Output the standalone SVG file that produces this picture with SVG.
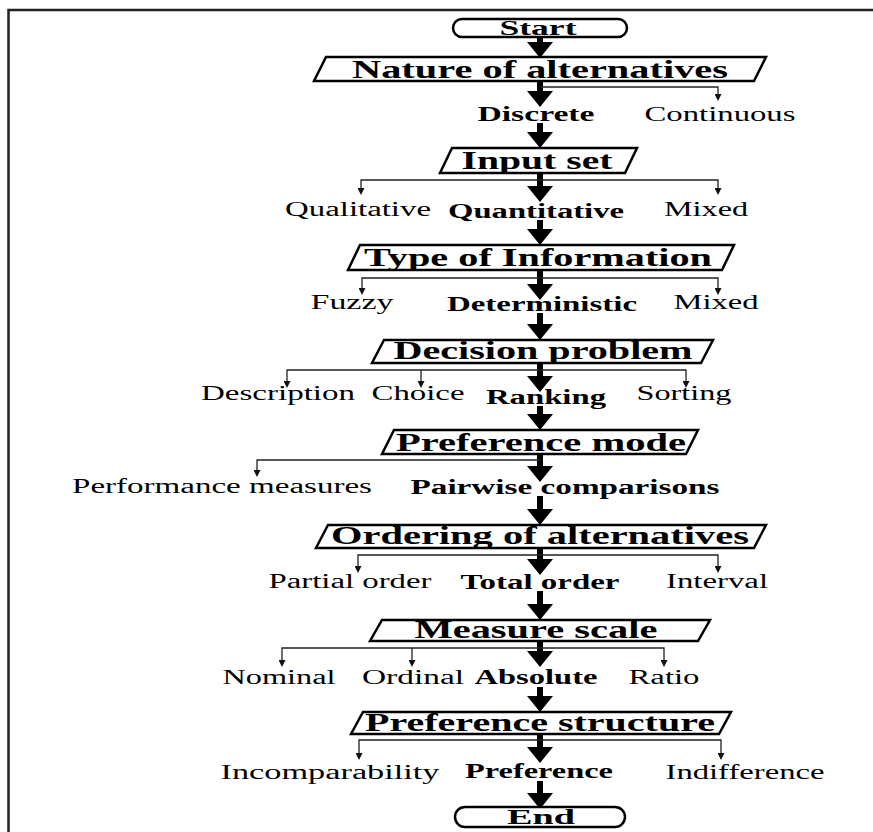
<svg xmlns="http://www.w3.org/2000/svg" width="873" height="832" viewBox="0 0 873 832">
<defs>
<marker id="bigHead" viewBox="0 0 16 26" markerWidth="16" markerHeight="26" refX="0" refY="13" orient="auto" markerUnits="userSpaceOnUse"><path d="M0,0 L16,13 L0,26 Z" fill="#000"/></marker>
<marker id="smallHead" viewBox="0 0 7 7" markerWidth="7" markerHeight="7" refX="0" refY="3.5" orient="auto-start-reverse" markerUnits="userSpaceOnUse"><path d="M0,0 L7,3.5 L0,7 Z" fill="#111"/></marker>
</defs>
<style>
.frame{fill:none;stroke:#222;stroke-width:2.5}
.box{fill:#fff;stroke:#000;stroke-width:2.5;stroke-linejoin:miter}
.term{fill:#fff;stroke:#000;stroke-width:2.5}
.title{font-family:"Liberation Serif","Times New Roman",serif;font-weight:bold;font-size:26px;text-anchor:middle;fill:#000}
.tt{font-size:21px}
.lab{font-family:"Liberation Serif","Times New Roman",serif;font-size:20px;text-anchor:middle;fill:#000}
.sel{font-weight:bold}
.main{stroke:#000;stroke-width:6;fill:none;marker-end:url(#bigHead)}
.br{stroke:#222;stroke-width:1.3;fill:none}
.bs{marker-start:url(#smallHead)}
.be{marker-end:url(#smallHead)}
</style>
<rect width="873" height="832" fill="#fff"/>
<path class="frame" d="M8.5,832 V10 H873"/>

<g id="connectors">
<line class="main" x1="540" y1="37" x2="540" y2="42"/>
<line class="main" x1="540" y1="81" x2="540" y2="91"/>
<line class="main" x1="540" y1="123" x2="540" y2="132"/>
<line class="main" x1="540" y1="173" x2="540" y2="186"/>
<line class="main" x1="540" y1="220" x2="540" y2="229"/>
<line class="main" x1="540" y1="270" x2="540" y2="284"/>
<line class="main" x1="540" y1="313" x2="540" y2="324"/>
<line class="main" x1="540" y1="363" x2="540" y2="376"/>
<line class="main" x1="540" y1="406" x2="540" y2="414"/>
<line class="main" x1="540" y1="454" x2="540" y2="466"/>
<line class="main" x1="540" y1="496" x2="540" y2="509"/>
<line class="main" x1="540" y1="548" x2="540" y2="559"/>
<line class="main" x1="540" y1="591" x2="540" y2="604"/>
<line class="main" x1="540" y1="641" x2="540" y2="651"/>
<line class="main" x1="540" y1="687" x2="540" y2="696"/>
<line class="main" x1="540" y1="734" x2="540" y2="747"/>
<line class="main" x1="540" y1="781" x2="540" y2="793"/>

<path class="br be" d="M540,87 H718 V94"/>
<path class="br bs be" d="M361,188 V180 H718 V188"/>
<path class="br bs be" d="M362,288 V278 H718 V288"/>
<path class="br bs be" d="M287,381 V370 H686 V381"/>
<path class="br be" d="M421,370 V381"/>
<path class="br be" d="M540,460 H257 V470"/>
<path class="br bs be" d="M358,566 V555 H718 V566"/>
<path class="br bs be" d="M282,660 V648 H664 V660"/>
<path class="br be" d="M412,648 V660"/>
<path class="br bs be" d="M359,753 V740 H721 V753"/>
</g>

<g id="start"><rect class="term" x="453" y="19" width="174" height="18" rx="9"/><text class="title tt" x="538" y="35" textLength="77" lengthAdjust="spacingAndGlyphs">Start</text></g>

<g id="nature"><polygon class="box" points="314,81 326,57 766,57 754,81"/><text class="title" x="540" y="78" textLength="376" lengthAdjust="spacingAndGlyphs">Nature of alternatives</text></g>
<g id="discrete"><text class="lab sel" x="536" y="121" textLength="117" lengthAdjust="spacingAndGlyphs">Discrete</text></g>
<g id="continuous"><text class="lab" x="720" y="121" textLength="151" lengthAdjust="spacingAndGlyphs">Continuous</text></g>

<g id="input-set"><polygon class="box" points="440,173 452,148 637,148 625,173"/><text class="title" x="537" y="169" textLength="151" lengthAdjust="spacingAndGlyphs">Input set</text></g>
<g id="qualitative"><text class="lab" x="358" y="216" textLength="146" lengthAdjust="spacingAndGlyphs">Qualitative</text></g>
<g id="quantitative"><text class="lab sel" x="536" y="218" textLength="176" lengthAdjust="spacingAndGlyphs">Quantitative</text></g>
<g id="mixed-1"><text class="lab" x="706" y="216" textLength="84" lengthAdjust="spacingAndGlyphs">Mixed</text></g>

<g id="type-of-information"><polygon class="box" points="348,270 360,245 734,245 722,270"/><text class="title" x="538" y="266" textLength="348" lengthAdjust="spacingAndGlyphs">Type of Information</text></g>
<g id="fuzzy"><text class="lab" x="352" y="309" textLength="83" lengthAdjust="spacingAndGlyphs">Fuzzy</text></g>
<g id="deterministic"><text class="lab sel" x="542" y="311" textLength="190" lengthAdjust="spacingAndGlyphs">Deterministic</text></g>
<g id="mixed-2"><text class="lab" x="716" y="309" textLength="85" lengthAdjust="spacingAndGlyphs">Mixed</text></g>

<g id="decision-problem"><polygon class="box" points="372,363 384,340 713,340 701,363"/><text class="title" x="543" y="359" textLength="299" lengthAdjust="spacingAndGlyphs">Decision problem</text></g>
<g id="description"><text class="lab" x="278" y="400" textLength="154" lengthAdjust="spacingAndGlyphs">Description</text></g>
<g id="choice"><text class="lab" x="418" y="400" textLength="93" lengthAdjust="spacingAndGlyphs">Choice</text></g>
<g id="ranking"><text class="lab sel" x="546" y="404" textLength="120" lengthAdjust="spacingAndGlyphs">Ranking</text></g>
<g id="sorting"><text class="lab" x="684" y="400" textLength="95" lengthAdjust="spacingAndGlyphs">Sorting</text></g>

<g id="preference-mode"><polygon class="box" points="382,454 394,430 698,430 686,454"/><text class="title" x="541" y="451" textLength="290" lengthAdjust="spacingAndGlyphs">Preference mode</text></g>
<g id="performance-measures"><text class="lab" x="222" y="493" textLength="300" lengthAdjust="spacingAndGlyphs">Performance measures</text></g>
<g id="pairwise-comparisons"><text class="lab sel" x="565" y="494" textLength="309" lengthAdjust="spacingAndGlyphs">Pairwise comparisons</text></g>

<g id="ordering"><polygon class="box" points="316,548 328,525 766,525 754,548"/><text class="title" x="540" y="544" textLength="418" lengthAdjust="spacingAndGlyphs">Ordering of alternatives</text></g>
<g id="partial-order"><text class="lab" x="350" y="588" textLength="163" lengthAdjust="spacingAndGlyphs">Partial order</text></g>
<g id="total-order"><text class="lab sel" x="540" y="589" textLength="159" lengthAdjust="spacingAndGlyphs">Total order</text></g>
<g id="interval"><text class="lab" x="717" y="588" textLength="102" lengthAdjust="spacingAndGlyphs">Interval</text></g>

<g id="measure-scale"><polygon class="box" points="370,641 382,620 710,620 698,641"/><text class="title" x="536" y="638" textLength="243" lengthAdjust="spacingAndGlyphs">Measure scale</text></g>
<g id="nominal"><text class="lab" x="279" y="684" textLength="113" lengthAdjust="spacingAndGlyphs">Nominal</text></g>
<g id="ordinal"><text class="lab" x="413" y="684" textLength="102" lengthAdjust="spacingAndGlyphs">Ordinal</text></g>
<g id="absolute"><text class="lab sel" x="536" y="684" textLength="123" lengthAdjust="spacingAndGlyphs">Absolute</text></g>
<g id="ratio"><text class="lab" x="664" y="684" textLength="71" lengthAdjust="spacingAndGlyphs">Ratio</text></g>

<g id="preference-structure"><polygon class="box" points="351,734 363,712 731,712 719,734"/><text class="title" x="540" y="731" textLength="350" lengthAdjust="spacingAndGlyphs">Preference structure</text></g>
<g id="incomparability"><text class="lab" x="330" y="779" textLength="219" lengthAdjust="spacingAndGlyphs">Incomparability</text></g>
<g id="preference"><text class="lab sel" x="539" y="778" textLength="148" lengthAdjust="spacingAndGlyphs">Preference</text></g>
<g id="indifference"><text class="lab" x="745" y="779" textLength="159" lengthAdjust="spacingAndGlyphs">Indifference</text></g>

<g id="end"><rect class="term" x="455" y="807" width="170" height="20" rx="10"/><text class="title tt" x="541" y="824" textLength="68" lengthAdjust="spacingAndGlyphs">End</text></g>
</svg>
